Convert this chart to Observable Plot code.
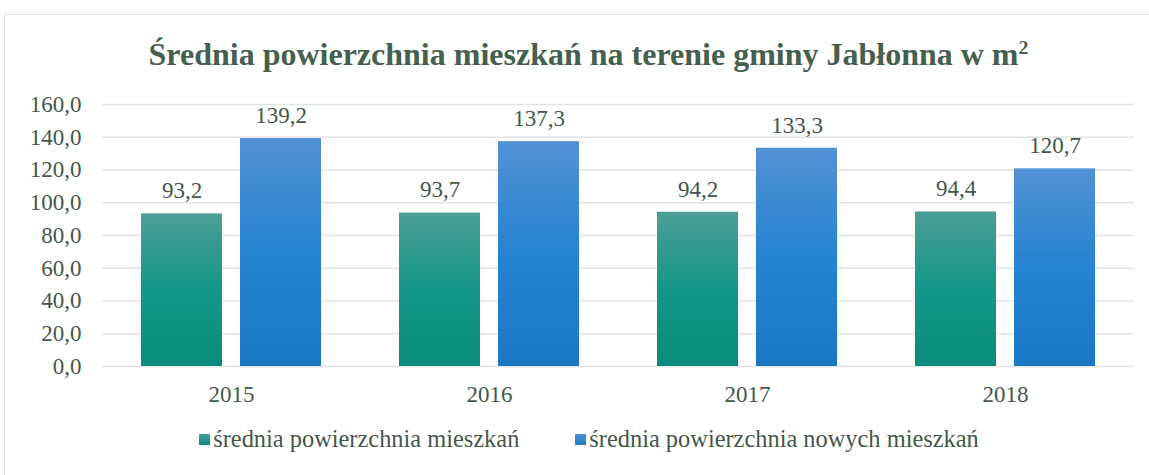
<!DOCTYPE html>
<html>
<head>
<meta charset="utf-8">
<script src="https://cdn.jsdelivr.net/npm/d3@7"></script>
<script src="https://cdn.jsdelivr.net/npm/@observablehq/plot@0.6"></script>
<style>
  html, body { margin: 0; padding: 0; background: #fff; }
  #wrap { position: relative; width: 1149px; height: 475px; overflow: hidden; font-family: "Liberation Serif", "Times New Roman", serif; }
  #frame { position: absolute; left: 4px; top: 14px; width: 1160px; height: 480px; border-top: 1.5px solid #dfe3e1; border-left: 1.5px solid #dfe3e1; box-sizing: border-box; }
  #title { position: absolute; left: 0; width: 1149px; top: 36px; padding-left: 28px; box-sizing: border-box; text-align: center; font-weight: bold; font-size: 32px; color: #46604f; }
  #chart { position: absolute; left: 0; top: 84px; }
  #chart svg text { font-family: "Liberation Serif", "Times New Roman", serif; }
  #legend { position: absolute; left: 0; top: 425px; width: 1149px; display: flex; justify-content: center; gap: 56px; font-size: 24.4px; color: #44574b; padding-left: 29px; box-sizing: border-box; }
  .item { display: flex; align-items: center; }
  .sw { width: 11px; height: 11px; margin-right: 3px; }
</style>
</head>
<body>
<div id="wrap">
  <div id="frame"></div>
  <div id="title">Średnia powierzchnia mieszkań na terenie gminy Jabłonna w m<sup style="font-size:0.62em; vertical-align: 0.55em; line-height:0;">2</sup></div>
  <div id="chart"></div>
  <div id="legend"></div>
</div>
<script>
const years = ["2015", "2016", "2017", "2018"];
const seriesNames = ["średnia powierzchnia mieszkań", "średnia powierzchnia nowych mieszkań"];
const avgAll = [93.2, 93.7, 94.2, 94.4];
const avgNew = [139.2, 137.3, 133.3, 120.7];
const yTicks = [0, 20, 40, 60, 80, 100, 120, 140, 160];
const gradients = ["gGreen", "gBlue"];

const data = [];
years.forEach((yr, i) => {
  data.push({year: yr, series: seriesNames[0], value: avgAll[i]});
  data.push({year: yr, series: seriesNames[1], value: avgNew[i]});
});

const fmt = v => d3.format(".1f")(v).replace(".", ",");
const textColor = "#44574b";
const serif = "'Liberation Serif', 'Times New Roman', serif";

const svg = Plot.plot({
  width: 1149,
  height: 331,
  marginLeft: 101,
  marginRight: 15,
  marginTop: 20,
  marginBottom: 49,
  style: {fontFamily: serif, fontSize: "23px", color: textColor, background: "transparent"},
  fx: {domain: years, padding: 0, label: null},
  x: {domain: seriesNames, paddingInner: 0.18, paddingOuter: 0.39, axis: null},
  y: {domain: [0, 160], ticks: yTicks, label: null},
  color: {domain: seriesNames, range: gradients.map(g => `url(#${g})`)},
  marks: [
    Plot.ruleY(yTicks, {stroke: "#dfe3e1", strokeWidth: 1.6}),
    Plot.barY(data, {fx: "year", x: "series", y: "value", fill: "series"}),
    Plot.text(data, {fx: "year", x: "series", y: "value", text: d => fmt(d.value), dy: -23, fontSize: 23, fontFamily: serif, fill: textColor}),
    Plot.axisY({ticks: yTicks, tickFormat: fmt, tickSize: 0, tickPadding: 21, fontSize: 23, fontFamily: serif, label: null}),
    Plot.axisFx({anchor: "bottom", tickSize: 0, tickPadding: 19, fontSize: 23, fontFamily: serif, label: null})
  ]
});

const defs = d3.select(svg).insert("defs", ":first-child");
const stops = {
  gGreen: ["#4c9f95", "#149689", "#0a8a7a"],
  gBlue: ["#5291d5", "#2584d0", "#1a77c3"]
};
for (const g of gradients) {
  const lg = defs.append("linearGradient").attr("id", g).attr("x1", 0).attr("y1", 0).attr("x2", 0).attr("y2", 1);
  stops[g].forEach((c, k) => lg.append("stop").attr("offset", k / 2).attr("stop-color", c));
}
document.getElementById("chart").appendChild(svg);

const legend = document.getElementById("legend");
seriesNames.forEach((name, i) => {
  const item = document.createElement("div");
  item.className = "item";
  const sw = document.createElement("div");
  sw.className = "sw";
  sw.style.background = `linear-gradient(${stops[gradients[i]][0]}, ${stops[gradients[i]][2]})`;
  const label = document.createElement("span");
  label.textContent = name;
  item.appendChild(sw);
  item.appendChild(label);
  legend.appendChild(item);
});
</script>
</body>
</html>
